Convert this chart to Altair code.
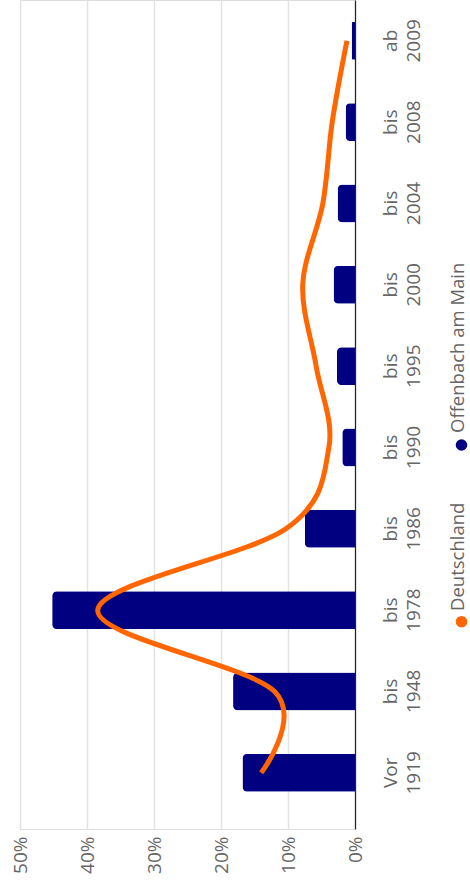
import altair as alt
import pandas as pd

categories = ["Vor 1919", "bis 1948", "bis 1978", "bis 1986", "bis 1990",
              "bis 1995", "bis 2000", "bis 2004", "bis 2008", "ab 2009"]
offenbach = [16.8, 18.2, 45.2, 7.5, 1.9, 2.7, 3.2, 2.6, 1.4, 0.5]
deutschland = [14.0, 12.0, 38.4, 10.3, 3.9, 5.8, 7.8, 4.8, 3.4, 1.2]
tick_values = [0, 10, 20, 30, 40, 50]
legend_labels = ["Deutschland", "Offenbach am Main"]
legend_colors = ["#ff6600", "#000080"]

FONT = "Open Sans"
GREY = "#666666"

bars_df = pd.DataFrame({"cat": categories, "val": offenbach})
line_df = pd.DataFrame({"cat": categories, "val": deutschland, "idx": list(range(len(categories)))})

y_scale = alt.Scale(domain=categories[::-1], paddingInner=0.533, paddingOuter=0.363, align=0.37)
x_scale = alt.Scale(domain=[0, 50], reverse=True, nice=False)

x_axis = alt.Axis(values=tick_values, grid=True, gridColor="#e3e3e3", gridWidth=1.5,
                  domain=False, ticks=False, labelAngle=270, labelAlign="right",
                  labelBaseline="middle", labelPadding=7, labelFontSize=19,
                  labelFont=FONT, labelColor=GREY, labelExpr="datum.value + '%'",
                  title=None)
y_axis = alt.Axis(orient="right", domain=True, domainColor="#1f1f3f", domainWidth=1.2,
                  ticks=False, grid=False, labelAngle=270, labelAlign="center",
                  labelBaseline="top", labelPadding=26, labelFontSize=19,
                  labelLineHeight=23, labelFont=FONT, labelColor=GREY,
                  labelExpr="split(datum.label, ' ')", title=None)

bars = alt.Chart(bars_df).mark_bar(
    color="#000080", cornerRadiusTopLeft=5, cornerRadiusBottomLeft=5
).encode(
    x=alt.X("val:Q", scale=x_scale, axis=x_axis),
    y=alt.Y("cat:N", scale=y_scale, axis=y_axis),
)

line = alt.Chart(line_df).mark_line(
    color="#ff6600", strokeWidth=5, interpolate="cardinal"
).encode(
    x=alt.X("val:Q", scale=x_scale),
    y=alt.Y("cat:N", scale=y_scale),
    order=alt.Order("idx:Q"),
)

leg_dot_d = alt.Chart(pd.DataFrame({"a": [0]})).mark_point(
    shape="circle", filled=True, size=135, opacity=1, color=legend_colors[0]
).encode(x=alt.value(441.5), y=alt.value(621.7))
leg_dot_o = alt.Chart(pd.DataFrame({"a": [0]})).mark_point(
    shape="circle", filled=True, size=135, opacity=1, color=legend_colors[1]
).encode(x=alt.value(441.5), y=alt.value(445.0))
leg_txt_d = alt.Chart(pd.DataFrame({"a": [0]})).mark_text(
    text=legend_labels[0], angle=270, align="left", baseline="alphabetic",
    fontSize=18.5, font=FONT, color=GREY
).encode(x=alt.value(444), y=alt.value(611.0))
leg_txt_o = alt.Chart(pd.DataFrame({"a": [0]})).mark_text(
    text=legend_labels[1], angle=270, align="left", baseline="alphabetic",
    fontSize=18.5, font=FONT, color=GREY
).encode(x=alt.value(444), y=alt.value(433.0))

chart = alt.layer(bars, line, leg_dot_d, leg_dot_o, leg_txt_d, leg_txt_o).properties(
    width=335, height=829,
    autosize=alt.AutoSizeParams(type="none"),
    padding={"left": 20, "top": 0, "right": 115, "bottom": 55},
).configure_view(stroke=None).configure(background="white")

chart.save("out.html", embed_options={"renderer": "svg", "actions": False})
